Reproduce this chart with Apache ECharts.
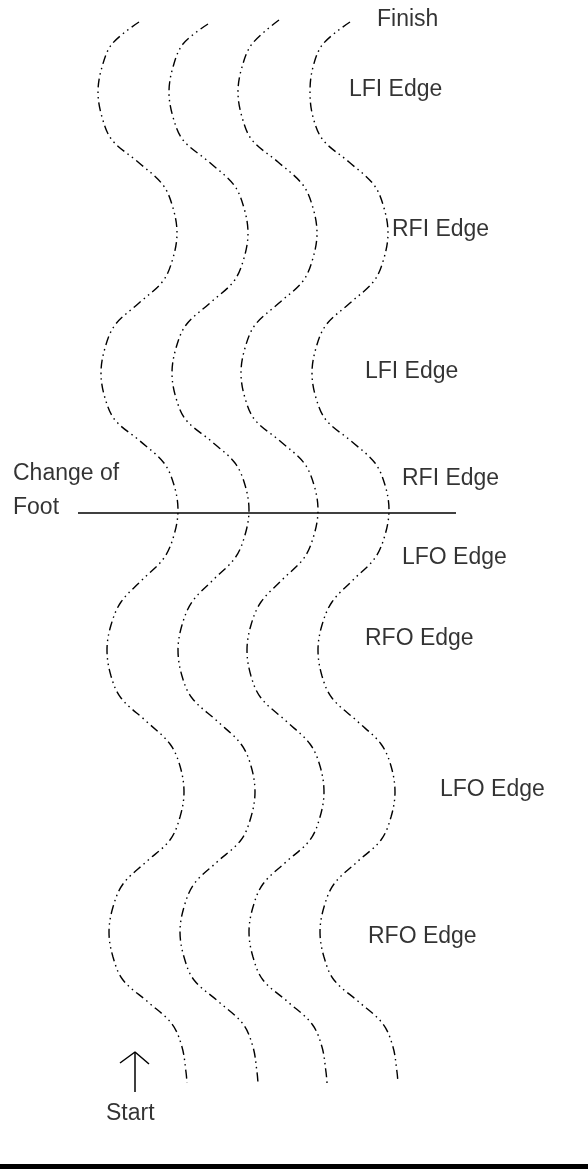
<!DOCTYPE html>
<html>
<head>
<meta charset="utf-8">
<script src="https://cdn.jsdelivr.net/npm/echarts@6/dist/echarts.min.js"></script>
<style>
html,body{margin:0;padding:0;background:#fff;}
#chart{width:588px;height:1169px;}
</style>
</head>
<body>
<div id="chart"></div>
<script>
// Four skating tracks (x, y), drawn top (Finish) to bottom (Start)
var track1 = [[139,22],[112,44],[102,67],[98,92],
  [102,117],[112,140],[138,162],[163,185],[173,208],[177,233],
  [173,258],[163,281],[139,303],[115,325],[105,348],[101,373],
  [105,398],[115,420],[140,441],[164,463],[174,485],[178,510],
  [174,535],[164,558],[142,580],[121,602],[111,625],[107,650],
  [111,676],[121,698],[146,721],[170,744],[180,766],[184,792],
  [180,817],[170,840],[146,862],[123,884],[113,907],[109,932],
  [113,957],[123,980],[148,1002],[172,1024],[182,1047],[186,1072],
  [187,1083]];
var track2 = [[208,24],[183,44],[173,67],[169,92],
  [173,117],[183,140],[209,162],[234,185],[244,208],[248,233],
  [244,258],[234,281],[210,303],[186,325],[176,348],[172,373],
  [176,398],[186,420],[211,441],[235,463],[245,485],[249,510],
  [245,535],[235,558],[213,580],[192,602],[182,625],[178,650],
  [182,676],[192,698],[217,721],[241,744],[251,766],[255,792],
  [251,817],[241,840],[217,862],[194,884],[184,907],[180,932],
  [184,957],[194,980],[219,1002],[243,1024],[253,1047],[257,1072],
  [258,1083]];
var track3 = [[279,20],[252,44],[242,67],[238,92],
  [242,117],[252,140],[278,162],[303,185],[313,208],[317,233],
  [313,258],[303,281],[279,303],[255,325],[245,348],[241,373],
  [245,398],[255,420],[280,441],[304,463],[314,485],[318,510],
  [314,535],[304,558],[282,580],[261,602],[251,625],[247,650],
  [251,676],[261,698],[286,721],[310,744],[320,766],[324,792],
  [320,817],[310,840],[286,862],[263,884],[253,907],[249,932],
  [253,957],[263,980],[288,1002],[312,1024],[322,1047],[326,1072],
  [327,1083]];
var track4 = [[350,22],[323,44],[313,67],[310,92],
  [313,117],[323,140],[349,162],[374,185],[384,208],[388,233],
  [384,258],[374,281],[350,303],[326,325],[316,348],[312,373],
  [316,398],[326,420],[351,441],[375,463],[385,485],[389,510],
  [385,535],[375,558],[353,580],[332,602],[322,625],[318,650],
  [322,676],[332,698],[357,721],[381,744],[391,766],[395,792],
  [391,817],[381,840],[357,862],[334,884],[324,907],[320,932],
  [324,957],[334,980],[359,1002],[383,1024],[393,1047],[397,1072],
  [398,1083]];

var changeOfFootLine = [[78,513],[456,513]];
var arrowShaft = [[135,1092],[135,1052]];
var arrowHead = [[120,1063],[135,1052],[149,1064]];

var labelTexts = ['Finish','LFI Edge','RFI Edge','LFI Edge','RFI Edge','LFO Edge','RFO Edge','LFO Edge','RFO Edge','Change of','Foot','Start'];
var labelX     = [377, 349, 392, 365, 402, 402, 365, 440, 368, 13, 13, 106];
var labelY     = [20, 90, 230, 372, 479, 558, 639, 790, 937, 474, 508, 1114];

var chart = echarts.init(document.getElementById('chart'), null, {renderer:'canvas'});

var trackStyle = {color:'#000', width:1.4, type:[9,4,1.5,4,1.5,4]};
function trackSeries(d){
  return {type:'line', data:d, smooth:0.35, symbol:'none', silent:true,
          lineStyle:trackStyle, z:2};
}
var labelData = labelTexts.map(function(t,i){ return {value:[labelX[i], labelY[i]], name:t}; });

chart.setOption({
  animation:false,
  backgroundColor:'#ffffff',
  grid:{left:0,right:0,top:0,bottom:0},
  xAxis:{type:'value', min:0, max:588, show:false},
  yAxis:{type:'value', min:0, max:1169, inverse:true, show:false},
  graphic:[{type:'rect', left:0, bottom:0, shape:{width:588, height:5}, style:{fill:'#000'}}],
  series:[
    trackSeries(track1), trackSeries(track2), trackSeries(track3), trackSeries(track4),
    {type:'line', data:changeOfFootLine, symbol:'none', lineStyle:{color:'#000', width:1.6}, silent:true},
    {type:'line', data:arrowShaft, symbol:'none', lineStyle:{color:'#000', width:1.5}, silent:true},
    {type:'line', data:arrowHead, symbol:'none', lineStyle:{color:'#000', width:1.5}, silent:true},
    {type:'scatter', data:labelData, symbolSize:0, silent:true,
     label:{show:true, position:'right', distance:0, formatter:function(p){return p.name;},
            color:'#000', fontFamily:'Liberation Sans', fontSize:23}}
  ]
});
</script>
</body>
</html>
